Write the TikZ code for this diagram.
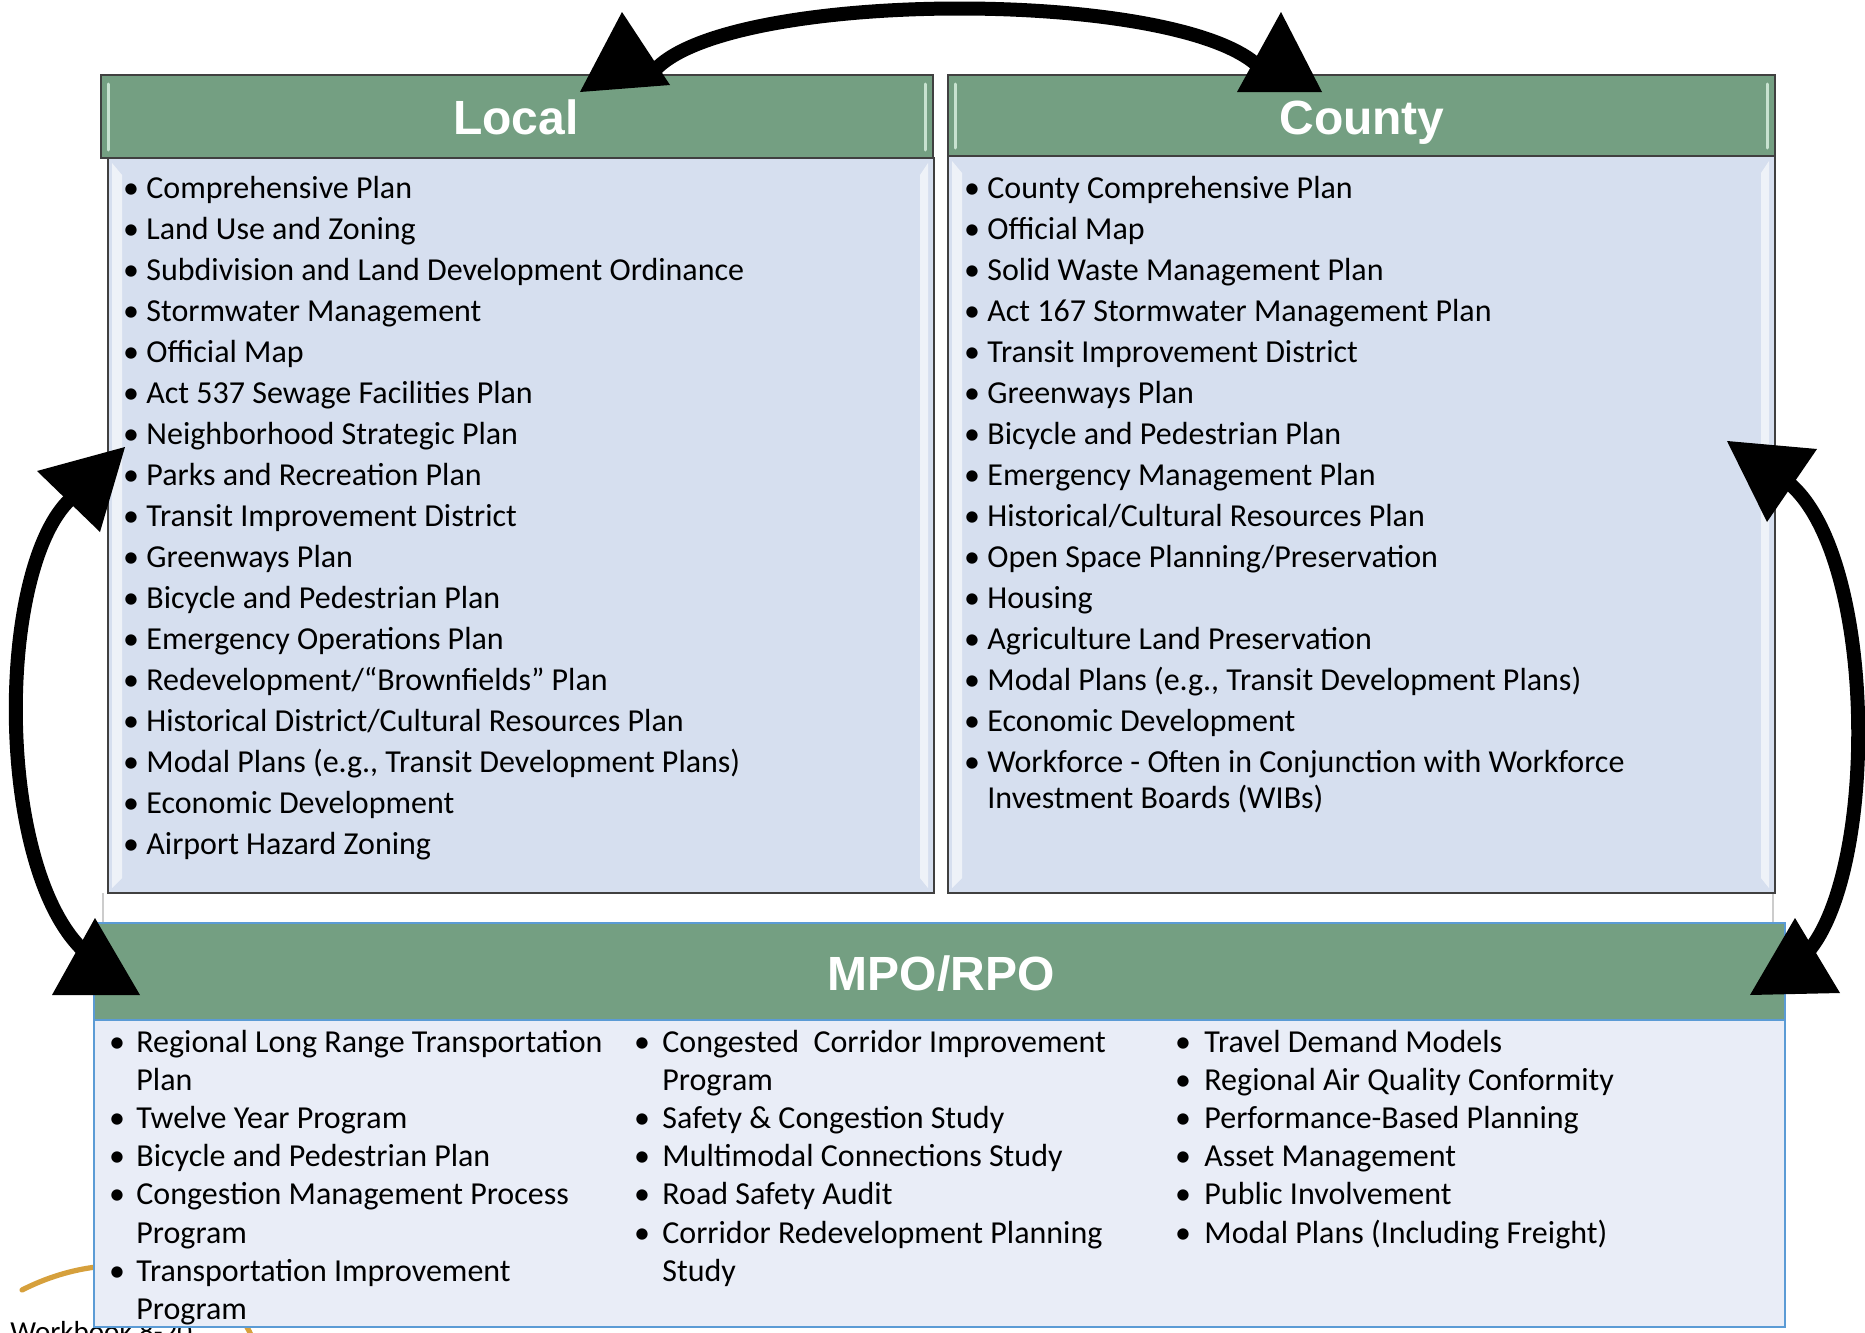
\documentclass[tikz,border=0pt]{standalone}
\usepackage{fontspec}
\setmainfont{Carlito}
\newfontfamily\headfont{Liberation Sans}
\usetikzlibrary{fit}
\definecolor{hgreen}{RGB}{116,159,130}
\definecolor{hlite}{RGB}{200,226,208}
\definecolor{bodyblue}{RGB}{214,223,239}
\definecolor{mpobody}{RGB}{233,237,247}
\definecolor{mpoborder}{RGB}{91,155,213}
\definecolor{edgegray}{RGB}{64,64,64}
\definecolor{goldline}{RGB}{214,160,60}
\tikzset{
  headbox/.style={draw=edgegray, line width=1.1pt, fill=hgreen, inner sep=0pt},
  bodybox/.style={draw=edgegray, line width=1.1pt, fill=bodyblue, inner sep=0pt},
  mpohead/.style={draw=mpoborder, line width=1.2pt, fill=hgreen, inner sep=0pt},
  mpobox/.style={draw=mpoborder, line width=1.2pt, fill=mpobody, inner sep=0pt},
  headtext/.style={font=\headfont\bfseries\fontsize{24}{28}\selectfont, text=white, inner sep=0pt, anchor=base},
  item/.style={font=\fontsize{16}{19}\selectfont, inner sep=0pt, anchor=base west},
  mitem/.style={font=\fontsize{16}{19}\selectfont, inner sep=0pt, anchor=base west},
  bul/.style={font=\fontsize{16}{19}\selectfont, inner sep=0pt, anchor=base},
  hilite/.style={draw=hlite, line width=1.5pt, line cap=round},
  bevel/.style={fill=white, opacity=0.6},
  shaft/.style={draw=black, line width=7pt},
  tiphead/.style={fill=black},
}
\begin{document}
\begin{tikzpicture}[x=0.5pt,y=-0.5pt]
\useasboundingbox (0,0) rectangle (1865,1333);
\clip (0,0) rectangle (1865,1333);

% background remnants
\draw[goldline, line width=2.6pt, line cap=round] (22,1290) .. controls (120,1240) and (230,1270) .. (255,1345);
\node[font=\fontsize{14.5}{17}\selectfont, inner sep=0pt, anchor=base west] (wb) at (10,1341) {Workbook 8-20};

% faint guide lines
\draw[gray!40, line width=0.6pt] (103,893) -- (103,923);
\draw[gray!40, line width=0.6pt] (1773,893) -- (1773,923);

% Local
\node[bodybox, fit={(108,158) (934,893)}] (localbody) {};
\fill[bevel] (112,163) -- (122,175) -- (122,878) -- (112,888) -- cycle;
\fill[bevel] (928,163) -- (920,175) -- (920,878) -- (928,888) -- cycle;
\node[headbox, fit={(101,75) (933,158)}] (localhead) {};
\draw[hilite] (108,84) -- (108,150);
\draw[hilite] (925,84) -- (925,150);
\node[headtext] (localtitle) at (516,134) {Local};

% County
\node[bodybox, fit={(948,156) (1775,893)}] (countybody) {};
\fill[bevel] (952,161) -- (962,173) -- (962,878) -- (952,888) -- cycle;
\fill[bevel] (1769,161) -- (1761,173) -- (1761,878) -- (1769,888) -- cycle;
\node[headbox, fit={(948,75) (1775,156)}] (countyhead) {};
\draw[hilite] (955,84) -- (955,148);
\draw[hilite] (1767,84) -- (1767,148);
\node[headtext] (countytitle) at (1362,134) {County};

% MPO/RPO
\node[mpobox, fit={(94,923) (1785,1327)}] (mpobody) {};
\node[mpohead, fit={(94,923) (1785,1020)}] (mpohead) {};
\node[headtext] (mpotitle) at (941,990) {MPO/RPO};

% Local items
\foreach \t [count=\i from 0] in {Comprehensive Plan, Land Use and Zoning,
  Subdivision and Land Development Ordinance, Stormwater Management, Official Map,
  Act 537 Sewage Facilities Plan, Neighborhood Strategic Plan, Parks and Recreation Plan,
  Transit Improvement District, Greenways Plan, Bicycle and Pedestrian Plan,
  Emergency Operations Plan, Redevelopment/“Brownfields” Plan,
  Historical District/Cultural Resources Plan, {Modal Plans (e.g., Transit Development Plans)},
  Economic Development, Airport Hazard Zoning}{
  \node[bul] (lb\i) at (131,{198+41*\i}) {•};
  \node[item] (l\i) at (146,{198+41*\i}) {\t};
}

% County items
\foreach \t [count=\i from 0] in {County Comprehensive Plan, Official Map,
  Solid Waste Management Plan, Act 167 Stormwater Management Plan,
  Transit Improvement District, Greenways Plan, Bicycle and Pedestrian Plan,
  Emergency Management Plan, Historical/Cultural Resources Plan,
  Open Space Planning/Preservation, Housing, Agriculture Land Preservation,
  {Modal Plans (e.g., Transit Development Plans)}, Economic Development,
  Workforce - Often in Conjunction with Workforce}{
  \node[bul] (cb\i) at (972,{198+41*\i}) {•};
  \node[item] (c\i) at (987,{198+41*\i}) {\t};
}
\node[item] (c15) at (987,808) {Investment Boards (WIBs)};

% MPO items
\foreach \c/\r/\b/\t in {
  1/0/1/Regional Long Range Transportation, 1/1/0/Plan, 1/2/1/Twelve Year Program,
  1/3/1/Bicycle and Pedestrian Plan, 1/4/1/Congestion Management Process, 1/5/0/Program,
  1/6/1/Transportation Improvement, 1/7/0/Program,
  2/0/1/Congested~ Corridor Improvement, 2/1/0/Program, 2/2/1/Safety \& Congestion Study,
  2/3/1/Multimodal Connections Study, 2/4/1/Road Safety Audit,
  2/5/1/Corridor Redevelopment Planning, 2/6/0/Study,
  3/0/1/Travel Demand Models, 3/1/1/Regional Air Quality Conformity,
  3/2/1/Performance-Based Planning, 3/3/1/Asset Management,
  3/4/1/Public Involvement, 3/5/1/Modal Plans (Including Freight)}{
  \pgfmathsetmacro{\tx}{\c==1 ? 136 : (\c==2 ? 662 : 1204)}
  \pgfmathsetmacro{\bx}{\c==1 ? 117 : (\c==2 ? 642 : 1183)}
  \pgfmathsetmacro{\by}{1052+38.2*\r}
  \ifnum\b=1 \node[bul] (mb\c-\r) at (\bx,\by) {•};\fi
  \node[mitem] (m\c-\r) at (\tx,\by) {\t};
}

% connector end points
\coordinate (topL) at (655,70);
\coordinate (topR) at (1262,70);
\coordinate (leftU) at (75,495);
\coordinate (leftD) at (95,960);
\coordinate (rightU) at (1785,480);
\coordinate (rightD) at (1800,960);

% connectors
\draw[shaft] (topL) .. controls (730,-12) and (1190,-12) .. (topR);
\draw[shaft] (leftU) .. controls (-7,560) and (-7,890) .. (leftD);
\draw[shaft] (rightU) .. controls (1880,550) and (1880,890) .. (rightD);

% arrow heads
\fill[tiphead] (622,12) -- (580,92) -- (670,85) -- cycle;
\fill[tiphead] (1281,12) -- (1237,92) -- (1322,92) -- cycle;
\fill[tiphead] (125,447) -- (37,471) -- (100,532) -- cycle;
\fill[tiphead] (95,918) -- (52,995) -- (140,995) -- cycle;
\fill[tiphead] (1727,441) -- (1817,449) -- (1767,522) -- cycle;
\fill[tiphead] (1795,918) -- (1750,995) -- (1840,993) -- cycle;
\end{tikzpicture}
\end{document}
